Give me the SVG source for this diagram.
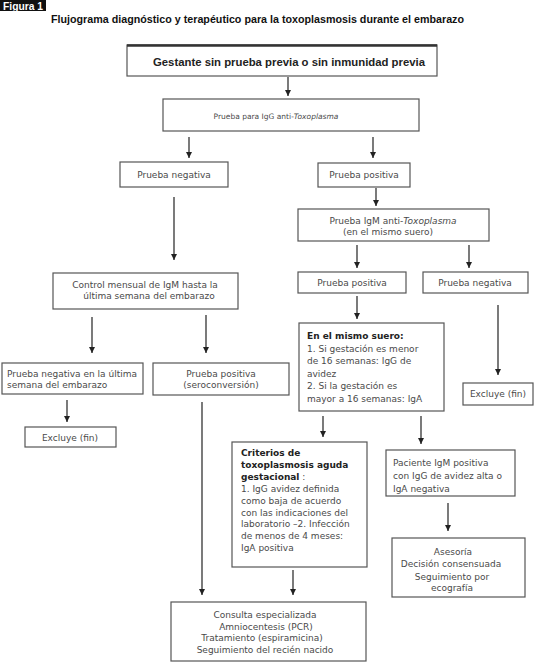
<svg xmlns="http://www.w3.org/2000/svg" width="539" height="663" viewBox="0 0 539 663">
<defs>
<marker id="ah" markerUnits="userSpaceOnUse" markerWidth="7" markerHeight="7" refX="6" refY="3" orient="auto">
<path d="M0,0 L6,3 L0,6 z" fill="#222"/>
</marker>
<style>
.box{fill:#fff;stroke:#555;stroke-width:1.2}
.t{font-family:"DejaVu Sans","Liberation Sans",sans-serif;font-size:9px;fill:#4a4a4a}
.c{text-anchor:middle}
.b{font-weight:bold;fill:#222}
.i{font-style:italic}
.conn path{stroke:#222;stroke-width:1.2;fill:none;marker-end:url(#ah)}
</style>
</defs>
<rect width="539" height="663" fill="#fff"/>
<g id="header">
<rect x="0" y="0" width="46" height="11" fill="#111"/>
<text x="3" y="9.5" font-family="Liberation Sans, sans-serif" font-size="10" font-weight="bold" fill="#fff" textLength="40" lengthAdjust="spacingAndGlyphs">Figura 1</text>
<text x="51" y="23" font-family="Liberation Sans, sans-serif" font-size="10.5" font-weight="bold" fill="#111" textLength="413" lengthAdjust="spacingAndGlyphs">Flujograma diagnóstico y terapéutico para la toxoplasmosis durante el embarazo</text>
</g>
<g class="conn" id="connectors">
<path d="M288,77 V96"/>
<path d="M189,137 V158"/>
<path d="M373,137 V158"/>
<path d="M376,188 V206"/>
<path d="M174,197 V260"/>
<path d="M357,245 V268"/>
<path d="M469,245 V268"/>
<path d="M92,317 V353"/>
<path d="M206,315 V353"/>
<path d="M357,296 V319"/>
<path d="M498,305 V375"/>
<path d="M67,400 V422"/>
<path d="M202,402 V595"/>
<path d="M323,416 V437"/>
<path d="M421,416 V444"/>
<path d="M448,503 V531"/>
<path d="M293,570 V595"/>
</g>
<g id="n_start">
<rect class="box" x="127" y="45" width="310" height="31"/>
<line x1="127" y1="45.5" x2="437" y2="45.5" stroke="#333" stroke-width="2.5"/>
<text class="t c b" x="289" y="66" style="font-family:'Liberation Sans',sans-serif;font-size:10.5px" textLength="272" lengthAdjust="spacingAndGlyphs">Gestante sin prueba previa o sin inmunidad previa</text>
</g>
<g id="n_igg">
<rect class="box" x="163" y="99" width="256" height="32"/>
<text class="t c" x="276" y="119" style="font-size:7.5px">Prueba para IgG anti-<tspan class="i">Toxoplasma</tspan></text>
</g>
<g id="n_neg1">
<rect class="box" x="120" y="162" width="108" height="25"/>
<text class="t c" x="174" y="178">Prueba negativa</text>
</g>
<g id="n_pos1">
<rect class="box" x="318" y="163" width="92" height="24"/>
<text class="t c" x="364" y="178">Prueba positiva</text>
</g>
<g id="n_igm">
<rect class="box" x="298" y="209" width="191" height="32"/>
<text class="t c" x="393" y="224">Prueba IgM anti-<tspan class="i">Toxoplasma</tspan></text>
<text class="t c" x="388" y="235">(en el mismo suero)</text>
</g>
<g id="n_pos2">
<rect class="box" x="298" y="272" width="108" height="21"/>
<text class="t c" x="352" y="286">Prueba positiva</text>
</g>
<g id="n_neg2">
<rect class="box" x="423" y="272" width="105" height="21"/>
<text class="t c" x="475" y="286">Prueba negativa</text>
</g>
<g id="n_control">
<rect class="box" x="53" y="273" width="185" height="36"/>
<text class="t c" x="145" y="288">Control mensual de IgM hasta la</text>
<text class="t c" x="149" y="299">última semana del embarazo</text>
</g>
<g id="n_neglast">
<rect class="box" x="2" y="363" width="141" height="31"/>
<text class="t" x="7" y="377">Prueba negativa en la última</text>
<text class="t" x="7" y="388">semana del embarazo</text>
</g>
<g id="n_seroconv">
<rect class="box" x="153" y="363" width="136" height="32"/>
<text class="t c" x="221" y="377">Prueba positiva</text>
<text class="t c" x="221" y="388">(seroconversión)</text>
</g>
<g id="n_excl1">
<rect class="box" x="25" y="427" width="91" height="20"/>
<text class="t c" x="70" y="441">Excluye (fin)</text>
</g>
<g id="n_suero">
<rect class="box" x="299" y="323" width="145" height="88"/>
<text class="t b" x="307" y="339">En el mismo suero:</text>
<text class="t" x="307" y="351.5">1. Si gestación es menor</text>
<text class="t" x="307" y="364">de 16 semanas: IgG de</text>
<text class="t" x="307" y="376.5">avidez</text>
<text class="t" x="307" y="389">2. Si la gestación es</text>
<text class="t" x="307" y="401.5">mayor a 16 semanas: IgA</text>
</g>
<g id="n_excl2">
<rect class="box" x="463" y="383" width="70" height="22"/>
<text class="t c" x="498" y="397">Excluye (fin)</text>
</g>
<g id="n_criterios">
<rect class="box" x="232" y="442" width="135" height="125"/>
<text class="t b" x="241" y="456">Criterios de</text>
<text class="t b" x="241" y="468">toxoplasmosis aguda</text>
<text class="t" x="241" y="480"><tspan class="b">gestacional</tspan> :</text>
<text class="t" x="241" y="492">1. IgG avidez definida</text>
<text class="t" x="241" y="503.5">como baja de acuerdo</text>
<text class="t" x="241" y="515.5">con las indicaciones del</text>
<text class="t" x="241" y="527">laboratorio –2. Infección</text>
<text class="t" x="241" y="539">de menos de 4 meses:</text>
<text class="t" x="241" y="551">IgA positiva</text>
</g>
<g id="n_paciente">
<rect class="box" x="386" y="450" width="129" height="46"/>
<text class="t" x="393" y="466">Paciente IgM positiva</text>
<text class="t" x="393" y="479">con IgG de avidez alta o</text>
<text class="t" x="393" y="492">IgA negativa</text>
</g>
<g id="n_asesoria">
<rect class="box" x="392" y="538" width="133" height="59"/>
<text class="t c" x="453" y="555">Asesoría</text>
<text class="t c" x="451" y="567">Decisión consensuada</text>
<text class="t c" x="452" y="580">Seguimiento por</text>
<text class="t c" x="452" y="591">ecografía</text>
</g>
<g id="n_consulta">
<rect class="box" x="171" y="602" width="195" height="59"/>
<text class="t c" x="265" y="618">Consulta especializada</text>
<text class="t c" x="266" y="630">Amniocentesis (PCR)</text>
<text class="t c" x="262" y="641">Tratamiento (espiramicina)</text>
<text class="t c" x="265" y="653">Seguimiento del recién nacido</text>
</g>
</svg>
